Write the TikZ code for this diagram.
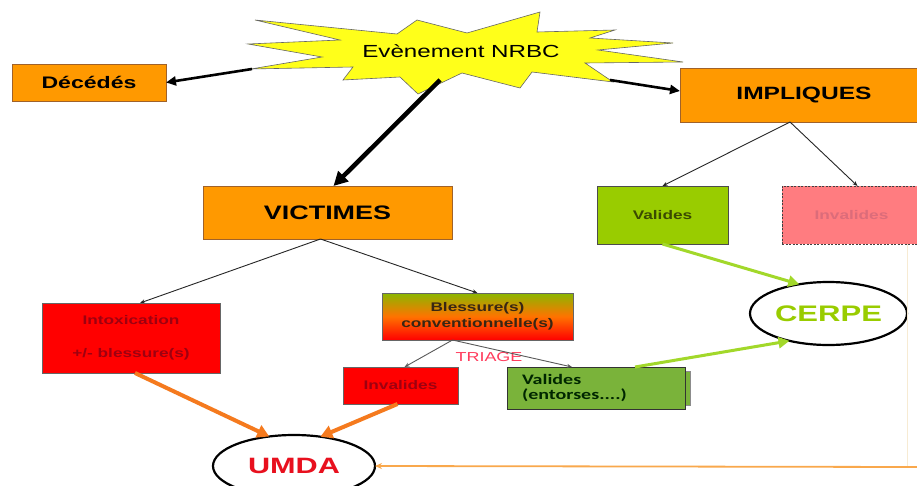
\documentclass[tikz,border=0pt]{standalone}
\usepackage{fontspec}
\setmainfont[FakeStretch=1.38]{Liberation Sans}
\newfontfamily\calfont[FakeStretch=1.38]{Carlito}
\usetikzlibrary{arrows.meta,shapes.geometric,calc}
\definecolor{orng}{HTML}{FF9900}
\definecolor{orngB}{HTML}{A0622A}
\definecolor{ygreen}{HTML}{99CC00}
\definecolor{ygreenT}{HTML}{3A4A00}
\definecolor{pinkF}{HTML}{FF7C80}
\definecolor{pinkT}{HTML}{DC6C7A}
\definecolor{redF}{HTML}{FF0000}
\definecolor{redT}{HTML}{9E0010}
\definecolor{oliveF}{HTML}{7AB33A}
\definecolor{garrow}{HTML}{A2D82A}
\definecolor{oarrow}{HTML}{F57A1E}
\definecolor{oline}{HTML}{F9A84C}
\definecolor{triageC}{HTML}{FF3B5C}
\definecolor{umdaT}{HTML}{E8101E}
\definecolor{starY}{HTML}{FFFF1A}
\definecolor{faint}{HTML}{F7EBD3}
\begin{document}
\begin{tikzpicture}[x=1pt,y=-1pt,
  every node/.style={inner sep=0pt, outer sep=0pt},
  obox/.style={draw=orngB, line width=0.8pt, fill=orng, text=black},
  smallbold/.style={font=\fontsize{12.5}{16}\selectfont\bfseries},
  thinarrow/.style={draw=black!85, line width=0.9pt, -{Stealth[length=5pt,width=4pt]}},
  thickarrow/.style={draw=black, -{Triangle[length=10pt,width=9pt]}},
  greenarrow/.style={draw=garrow, line width=3pt, -{Triangle[length=11pt,width=11pt]}},
  orangearrow/.style={draw=oarrow, line width=4pt, -{Triangle[length=12pt,width=13pt]}},
  ell/.style={ellipse, draw=black, line width=2.2pt, fill=white}
]
\useasboundingbox (0,0) rectangle (917,486);
\fill[white] (0,0) rectangle (917,486);

% star
\draw[fill=starY, draw=black!60, line width=0.6pt]
  (255,20) -- (397,34) -- (417,20) -- (467,33) -- (540,12) -- (537,32) -- (615,30)
  -- (590,38) -- (673,43) -- (598,50) -- (683,62) -- (585,63) -- (613,82)
  -- (532,72) -- (520,88) -- (462,73) -- (418,94) -- (400,77) -- (343,80)
  -- (353,67) -- (251,69) -- (322,57) -- (248,44) -- (340,40) -- cycle;
\node (evt) at (461,51) {\fontsize{17.5}{20}\selectfont Evènement NRBC};
\coordinate (sL) at (252,69);
\coordinate (sB) at (440,80);
\coordinate (sR) at (610,80);

% boxes
\node[obox, minimum width=154pt, minimum height=37pt, font=\fontsize{16.7}{20}\selectfont\bfseries] (dec) at (89,82.5) {Décédés};
\node[obox, minimum width=248pt, minimum height=54pt, font=\fontsize{17.8}{20}\selectfont\bfseries] (imp) at (804,95) {IMPLIQUES};
\node[obox, minimum width=249pt, minimum height=53pt, font=\fontsize{19.5}{22}\selectfont\bfseries] (vic) at (327.5,212.5) {VICTIMES};

\node[draw=black!70, line width=0.8pt, fill=ygreen, text=ygreenT, smallbold, minimum width=131pt, minimum height=58pt] (valR) at (662.5,215) {Valides};
\node[draw=black!75, dashed, dash pattern=on 2pt off 1.5pt, line width=0.9pt, fill=pinkF, text=pinkT, smallbold, minimum width=139pt, minimum height=58pt] (invR) at (851.5,215) {Invalides};

\node[ell, minimum width=157pt, minimum height=63pt, text=ygreen, font=\fontsize{22.5}{24}\selectfont\bfseries] (cerpe) at (828.5,313.5) {CERPE};

\node[draw=black!60, line width=0.8pt, fill=redF, text=redT, smallbold, align=center, minimum width=178pt, minimum height=70pt] (intox) at (131,338) {Intoxication\\[17pt]+/- blessure(s)};

\node[draw=black!60, line width=0.8pt, top color=ygreen!90!black, bottom color=red, middle color=orange!90!red, text=black!70!brown, smallbold, align=center, minimum width=191pt, minimum height=47pt] (bless) at (477.5,316.5) {Blessure(s)\\conventionnelle(s)};

\node[text=triageC, font=\fontsize{13}{15}\selectfont] (triage) at (489,357) {TRIAGE};

\node[draw=black!60, line width=0.8pt, fill=redF, text=redT, smallbold, minimum width=115pt, minimum height=37pt] (invL) at (400.5,385.5) {Invalides};

\fill[oliveF, draw=black!45, line width=0.6pt] (512,371) rectangle (690,405);
\node[draw=black!80, line width=0.8pt, fill=oliveF, text=black!85!green, align=left, inner xsep=15pt, text width=148pt, minimum height=42pt, font=\calfont\fontsize{14.5}{15}\selectfont\bfseries] (valE) at (596,388) {Valides\\(entorses....)};

\node[ell, minimum width=162pt, minimum height=62pt, text=umdaT, font=\fontsize{22.2}{24}\selectfont\bfseries] (umda) at (294,466) {UMDA};

% faint slide edge
\draw[faint, line width=0.8pt] (907,244) -- (907,466);

% connectors
\draw[thickarrow, line width=2.6pt] (sL) -- (dec.east);
\draw[thickarrow, line width=2.6pt] (sR) -- ([yshift=4pt]imp.west);
\draw[thickarrow, line width=4.5pt, -{Triangle[length=14pt,width=14pt]}] (sB) -- ([xshift=6pt]vic.north);

\draw[thinarrow] ([xshift=-14pt]imp.south) -- (valR.north);
\draw[thinarrow] ([xshift=-14pt]imp.south) -- ([xshift=6pt]invR.north);

\draw[thinarrow] ([xshift=-7pt]vic.south) -- ([xshift=9pt]intox.north);
\draw[thinarrow] ([xshift=-7pt]vic.south) -- (bless.north);

\draw[thinarrow, draw=black!65] ([xshift=-25pt]bless.south) -- ([xshift=4pt]invL.north);
\draw[thinarrow, draw=black!65] ([xshift=-25pt]bless.south) -- ([xshift=-24pt]valE.north);

\draw[greenarrow] (valR.south) -- (cerpe.135);
\draw[greenarrow] ([xshift=39pt]valE.north) -- (cerpe.215);

\draw[orangearrow] ([xshift=4pt]intox.south) -- (umda.130);
\draw[orangearrow] ([xshift=-3pt]invL.south) -- (umda.48);

\coordinate (rEdge) at (917,467);
\draw[oline, line width=1.8pt, -{Stealth[length=7pt,width=6pt]}] (rEdge) -- (umda.east);
\end{tikzpicture}
\end{document}
